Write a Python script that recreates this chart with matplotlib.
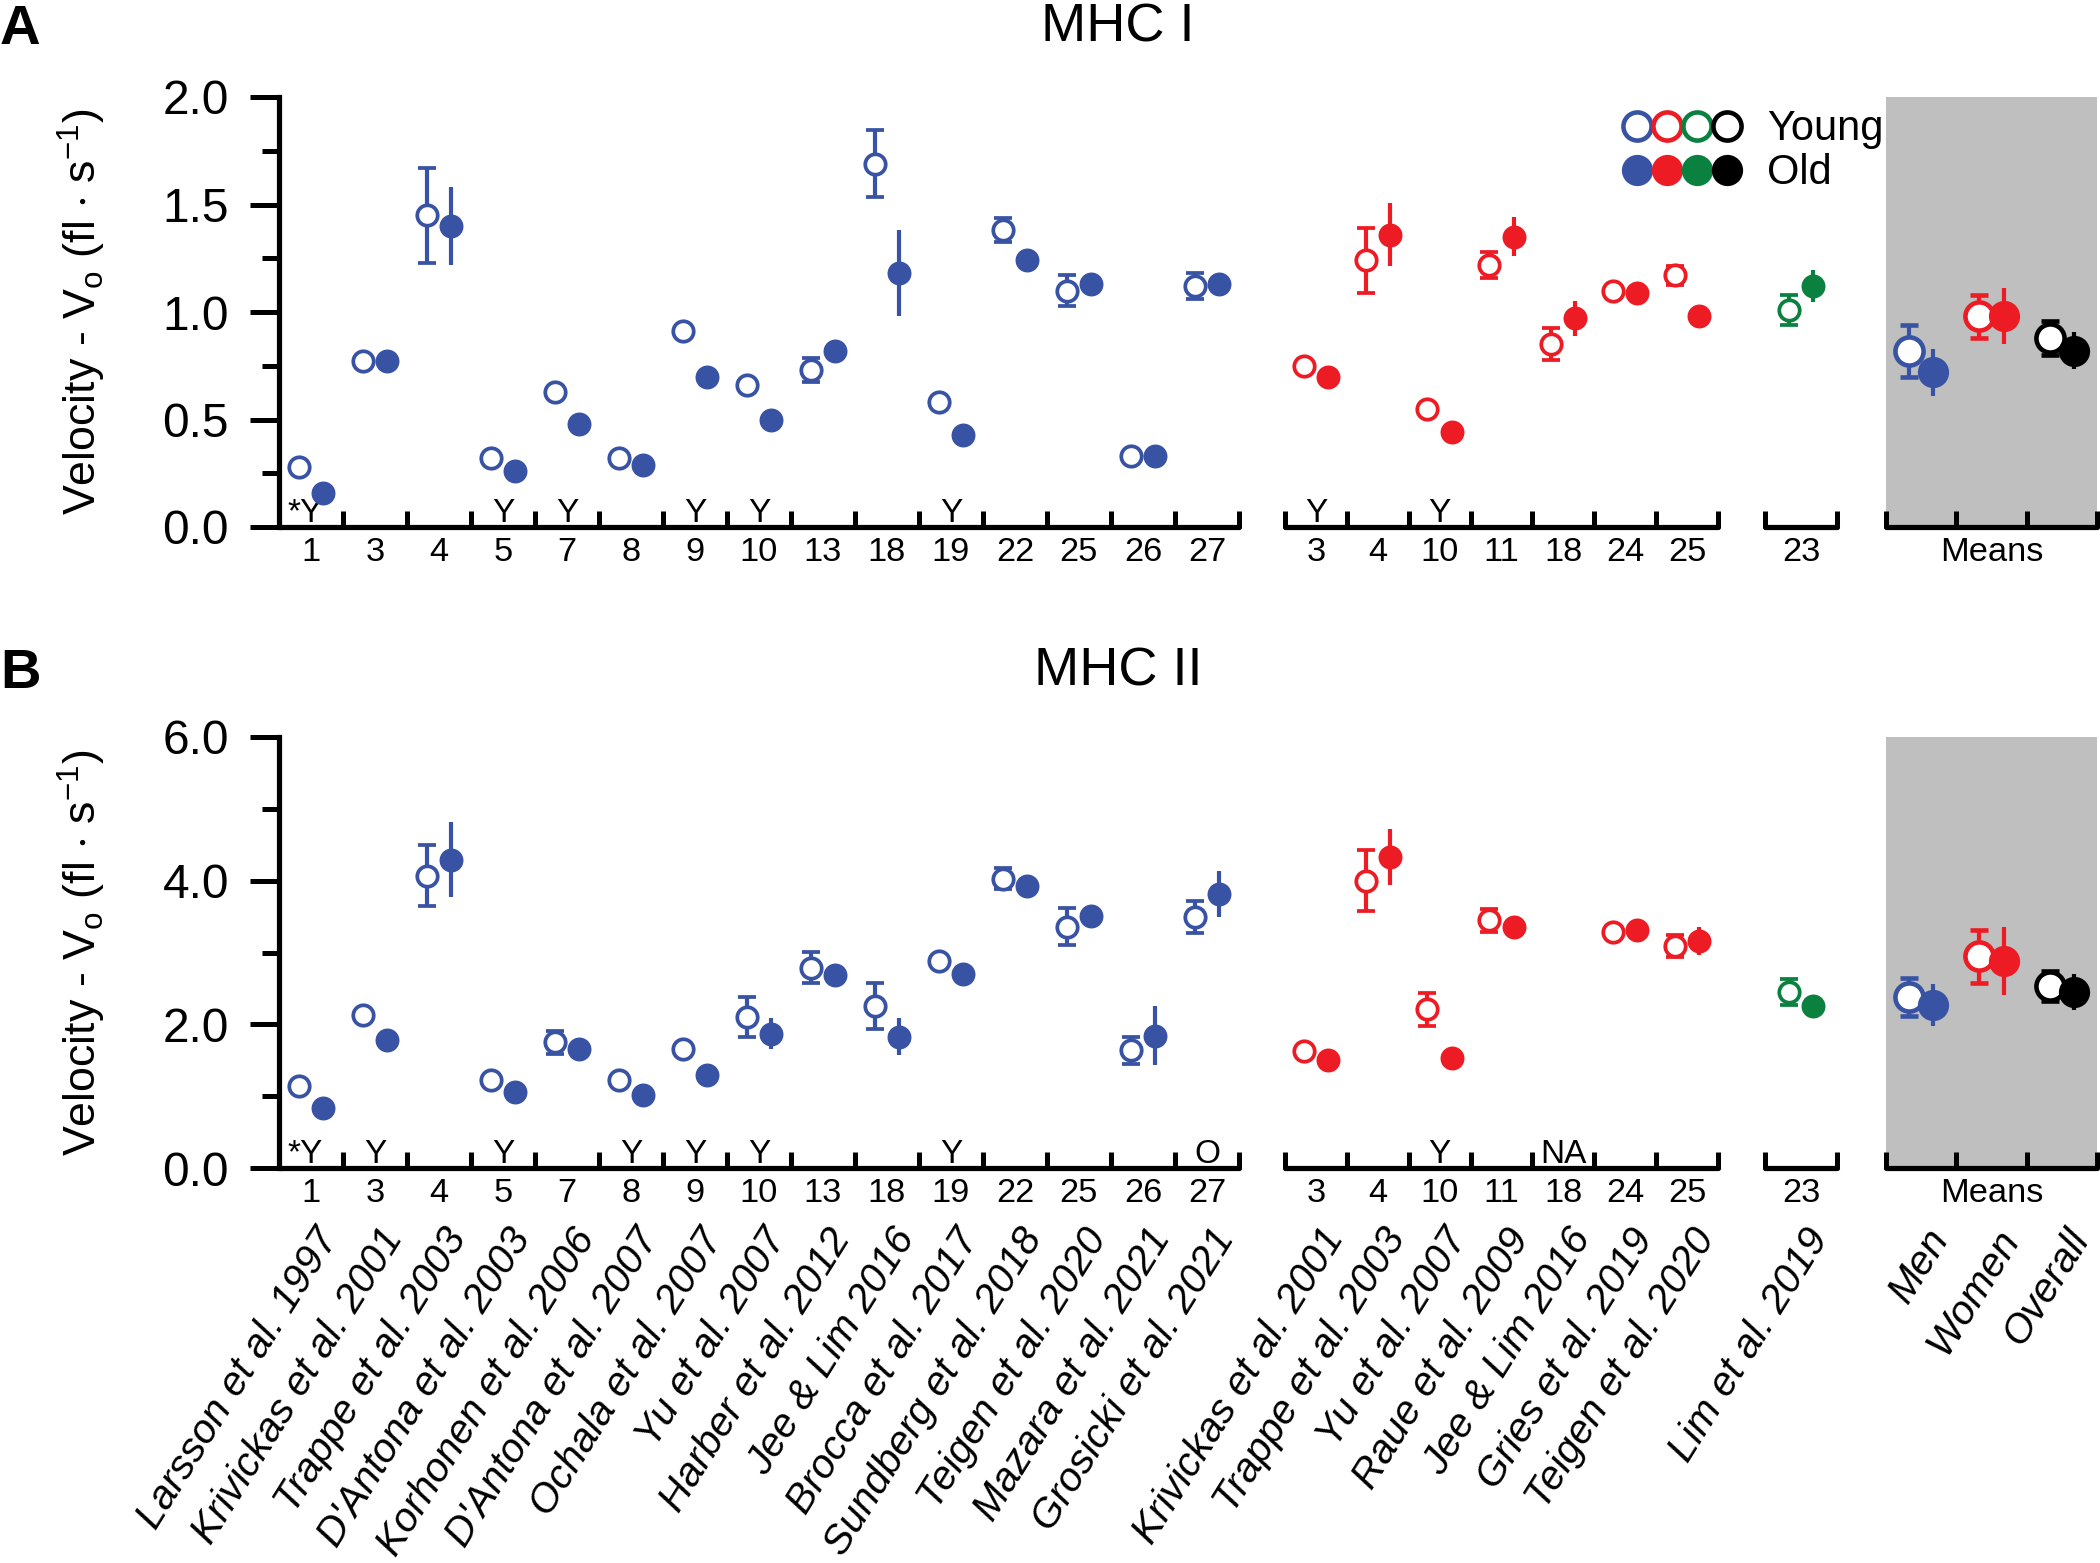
import numpy as np
import matplotlib
matplotlib.use("Agg")
import matplotlib.pyplot as plt
from matplotlib.lines import Line2D
from matplotlib.legend_handler import HandlerTuple
from matplotlib.ticker import FixedLocator, MultipleLocator, FormatStrFormatter
from matplotlib.transforms import offset_copy

plt.rcParams['font.family'] = ['Liberation Sans', 'DejaVu Sans']
plt.rcParams['mathtext.default'] = 'regular'

BLUE = '#3953a4'
RED = '#ed1c24'
GREEN = '#0b8140'
BLACK = '#000000'
GRAY = '#bfbfbf'

# study numbers (x tick labels) per group
blue_ids = ['1', '3', '4', '5', '7', '8', '9', '10', '13', '18', '19', '22', '25', '26', '27']
red_ids = ['3', '4', '10', '11', '18', '24', '25']
green_ids = ['23']
mean_names = ['Men', 'Women', 'Overall']

blue_refs = ['Larsson et al. 1997', 'Krivickas et al. 2001', 'Trappe et al. 2003',
             "D'Antona et al. 2003", 'Korhonen et al. 2006', "D'Antona et al. 2007",
             'Ochala et al. 2007', 'Yu et al. 2007', 'Harber et al. 2012', 'Jee & Lim 2016',
             'Brocca et al. 2017', 'Sundberg et al. 2018', 'Teigen et al. 2020',
             'Mazara et al. 2021', 'Grosicki et al. 2021']
red_refs = ['Krivickas et al. 2001', 'Trappe et al. 2003', 'Yu et al. 2007', 'Raue et al. 2009',
            'Jee & Lim 2016', 'Gries et al. 2019', 'Teigen et al. 2020']
green_refs = ['Lim et al. 2019']

# ---- MHC I (panel A) ----
a_blue_young = [0.28, 0.77, 1.45, 0.32, 0.63, 0.32, 0.91, 0.66, 0.73, 1.69, 0.58, 1.38, 1.10, 0.33, 1.12]
a_blue_young_err = [0, 0, 0.22, 0, 0, 0, 0, 0, 0.055, 0.155, 0, 0.055, 0.07, 0, 0.06]
a_blue_old = [0.16, 0.77, 1.40, 0.26, 0.48, 0.29, 0.70, 0.50, 0.82, 1.18, 0.43, 1.24, 1.13, 0.33, 1.13]
a_blue_old_err = [0, 0, 0.18, 0, 0.035, 0, 0, 0, 0.05, 0.20, 0, 0, 0.04, 0, 0.05]
a_red_young = [0.75, 1.24, 0.55, 1.22, 0.85, 1.10, 1.17]
a_red_young_err = [0, 0.15, 0, 0.06, 0.075, 0, 0.045]
a_red_old = [0.70, 1.36, 0.44, 1.35, 0.97, 1.09, 0.98]
a_red_old_err = [0, 0.145, 0, 0.09, 0.08, 0, 0]
a_green_young = [1.01]
a_green_young_err = [0.07]
a_green_old = [1.12]
a_green_old_err = [0.075]
a_mean_young = [0.82, 0.98, 0.88]
a_mean_young_err = [0.12, 0.10, 0.08]
a_mean_old = [0.72, 0.98, 0.82]
a_mean_old_err = [0.11, 0.13, 0.085]
a_notes_blue = {'1': '*Y', '5': 'Y', '7': 'Y', '9': 'Y', '10': 'Y', '19': 'Y'}
a_notes_red = {'3': 'Y', '10': 'Y'}

# ---- MHC II (panel B) ----
b_blue_young = [1.14, 2.13, 4.07, 1.22, 1.75, 1.22, 1.65, 2.10, 2.79, 2.25, 2.88, 4.03, 3.36, 1.64, 3.49]
b_blue_young_err = [0, 0, 0.42, 0, 0.16, 0, 0, 0.28, 0.22, 0.32, 0, 0.15, 0.26, 0.19, 0.22]
b_blue_old = [0.83, 1.78, 4.29, 1.06, 1.66, 1.02, 1.29, 1.87, 2.69, 1.83, 2.70, 3.92, 3.51, 1.84, 3.81]
b_blue_old_err = [0, 0, 0.52, 0, 0.14, 0, 0, 0.22, 0.15, 0.26, 0, 0.10, 0.15, 0.41, 0.32]
b_red_young = [1.63, 4.00, 2.21, 3.45, np.nan, 3.29, 3.09]
b_red_young_err = [0, 0.42, 0.23, 0.16, 0, 0, 0.15]
b_red_old = [1.51, 4.33, 1.53, 3.36, np.nan, 3.32, 3.16]
b_red_old_err = [0, 0.39, 0.10, 0.10, 0, 0, 0.20]
b_green_young = [2.45]
b_green_young_err = [0.18]
b_green_old = [2.25]
b_green_old_err = [0.16]
b_mean_young = [2.38, 2.95, 2.53]
b_mean_young_err = [0.26, 0.37, 0.21]
b_mean_old = [2.27, 2.88, 2.45]
b_mean_old_err = [0.29, 0.47, 0.25]
b_notes_blue = {'1': '*Y', '3': 'Y', '5': 'Y', '8': 'Y', '9': 'Y', '10': 'Y', '19': 'Y', '27': 'O'}
b_notes_red = {'10': 'Y', '18': 'NA'}

# layout of the four x-axis segments: (start, slot width)
SEG_BLUE = (0.0, 1.0)
SEG_RED = (15.72, 0.9666)
SEG_GREEN = (23.22, 1.125)
SEG_MEAN = (25.11, 1.1)
XMAX = 28.41
OFF = 0.19

fig = plt.figure(figsize=(14, 10.42), dpi=150)
axA = fig.add_axes([279 / 2100, 1 - 527 / 1563, 1818 / 2100, 430 / 1563])
axB = fig.add_axes([279 / 2100, 1 - 1168 / 1563, 1818 / 2100, 431 / 1563])

EB = dict(elinewidth=2.0, capsize=4.5, capthick=2.4)


def draw_points(ax, seg, colors, young, yerr, old, oerr, ms_o, ms_f, mew):
    start, w = seg
    n = len(young)
    centers = start + w * (np.arange(n) + 0.5)
    for i in range(n):
        c = colors[i]
        if np.isnan(young[i]):
            continue
        ax.errorbar(centers[i] - OFF, young[i], yerr=yerr[i] if yerr[i] else None,
                    fmt='o', ms=ms_o, mfc='white', mec=c, mew=mew, ecolor=c, zorder=3, **EB)
        ax.errorbar(centers[i] + OFF, old[i], yerr=oerr[i] if oerr[i] else None,
                    fmt='o', ms=ms_f, mfc=c, mec=c, mew=0, ecolor=c, zorder=4, **EB)
    return centers


def draw_panel(ax, ymax, ystep, groups, notes):
    ax.set_xlim(0, XMAX)
    ax.set_ylim(0, ymax)
    ms_start, ms_w = SEG_MEAN
    ax.axvspan(ms_start, ms_start + 3 * ms_w, color=GRAY, lw=0, zorder=0)

    centers_all, labels_all, bounds = [], [], []
    for seg, colors, vals, ids, big in groups:
        ms_o, ms_f, mew = (13.5, 15, 2.2) if big else (9.8, 11.5, 1.8)
        centers = draw_points(ax, seg, colors, *vals, ms_o, ms_f, mew)
        start, w = seg
        n = len(centers)
        bounds += list(start + w * np.arange(n + 1))
        ax.plot([start, start + w * n], [0, 0], transform=ax.get_xaxis_transform(),
                color='k', lw=2.5, clip_on=False, solid_capstyle='round', zorder=5)
        if big:
            centers_all.append(start + w * n / 2)
            labels_all.append('Means')
        else:
            centers_all += list(centers)
            labels_all += ids

    # annotations just above the axis
    tr = offset_copy(ax.transData, fig=fig, y=2.5, units='points')
    for seg, ids, d in notes:
        start, w = seg
        for k, txt in d.items():
            cx = start + w * (ids.index(k) + 0.5)
            if txt.startswith('*'):
                ax.text(cx + 0.18, 0, txt, ha='right', va='baseline', fontsize=16, transform=tr)
            else:
                ax.text(cx, 0, txt, ha='center', va='baseline', fontsize=16, transform=tr)

    for s in ['top', 'right', 'bottom']:
        ax.spines[s].set_visible(False)
    ax.spines['left'].set_linewidth(2.5)
    ax.set_xticks(centers_all)
    ax.set_xticklabels(labels_all)
    ax.xaxis.set_minor_locator(FixedLocator(bounds))
    ax.tick_params(axis='x', which='major', length=0, pad=5, labelsize=16.5)
    ax.tick_params(axis='x', which='minor', direction='in', length=7.5, width=2.4)
    ax.yaxis.set_major_locator(MultipleLocator(ystep))
    ax.yaxis.set_minor_locator(MultipleLocator(ystep / 2))
    ax.yaxis.set_major_formatter(FormatStrFormatter('%.1f'))
    ax.tick_params(axis='y', which='major', length=14, width=2.4, labelsize=23, pad=10)
    ax.tick_params(axis='y', which='minor', length=8, width=2.4)
    ax.set_ylabel('Velocity - V$_o$ (fl $\\cdot$ s$^{-1}$)', fontsize=21.5, labelpad=26)
    return centers_all


groupsA = [
    (SEG_BLUE, [BLUE] * 15, (a_blue_young, a_blue_young_err, a_blue_old, a_blue_old_err), blue_ids, False),
    (SEG_RED, [RED] * 7, (a_red_young, a_red_young_err, a_red_old, a_red_old_err), red_ids, False),
    (SEG_GREEN, [GREEN], (a_green_young, a_green_young_err, a_green_old, a_green_old_err), green_ids, False),
    (SEG_MEAN, [BLUE, RED, BLACK], (a_mean_young, a_mean_young_err, a_mean_old, a_mean_old_err), mean_names, True),
]
groupsB = [
    (SEG_BLUE, [BLUE] * 15, (b_blue_young, b_blue_young_err, b_blue_old, b_blue_old_err), blue_ids, False),
    (SEG_RED, [RED] * 7, (b_red_young, b_red_young_err, b_red_old, b_red_old_err), red_ids, False),
    (SEG_GREEN, [GREEN], (b_green_young, b_green_young_err, b_green_old, b_green_old_err), green_ids, False),
    (SEG_MEAN, [BLUE, RED, BLACK], (b_mean_young, b_mean_young_err, b_mean_old, b_mean_old_err), mean_names, True),
]

draw_panel(axA, 2.0, 0.5, groupsA, [(SEG_BLUE, blue_ids, a_notes_blue), (SEG_RED, red_ids, a_notes_red)])
draw_panel(axB, 6.0, 2.0, groupsB, [(SEG_BLUE, blue_ids, b_notes_blue), (SEG_RED, red_ids, b_notes_red)])

# reference names under panel B
for seg, refs in [(SEG_BLUE, blue_refs), (SEG_RED, red_refs), (SEG_GREEN, green_refs), (SEG_MEAN, mean_names)]:
    start, w = seg
    for i, r in enumerate(refs):
        axB.text(start + w * (i + 0.5) + 0.05, -0.125, r, transform=axB.get_xaxis_transform(),
                 rotation=58, ha='right', va='top', rotation_mode='anchor',
                 style='italic', fontsize=19.5)

# legend
young_h = tuple(Line2D([], [], ls='none', marker='o', ms=13.5, mfc='white', mec=c, mew=2.2)
                for c in [BLUE, RED, GREEN, BLACK])
old_h = tuple(Line2D([], [], ls='none', marker='o', ms=15, mfc=c, mec=c, mew=0)
              for c in [BLUE, RED, GREEN, BLACK])
axA.legend([young_h, old_h], ['Young', 'Old'],
           handler_map={tuple: HandlerTuple(ndivide=None, pad=0)},
           handlelength=2.9, handletextpad=0.6, labelspacing=0.1, borderpad=0,
           frameon=False, fontsize=20, loc='upper left', bbox_to_anchor=(0.727, 1.02))

fig.text(1118 / 2100, 1 - 42 / 1563, 'MHC I', ha='center', va='baseline', fontsize=26)
fig.text(1118 / 2100, 1 - 686 / 1563, 'MHC II', ha='center', va='baseline', fontsize=26)
fig.text(0.0, 1 - 4 / 1563, 'A', ha='left', va='top', fontsize=27, fontweight='bold')
fig.text(0.0, 1 - 648 / 1563, 'B', ha='left', va='top', fontsize=27, fontweight='bold')

fig.savefig('out.png', dpi=150)
